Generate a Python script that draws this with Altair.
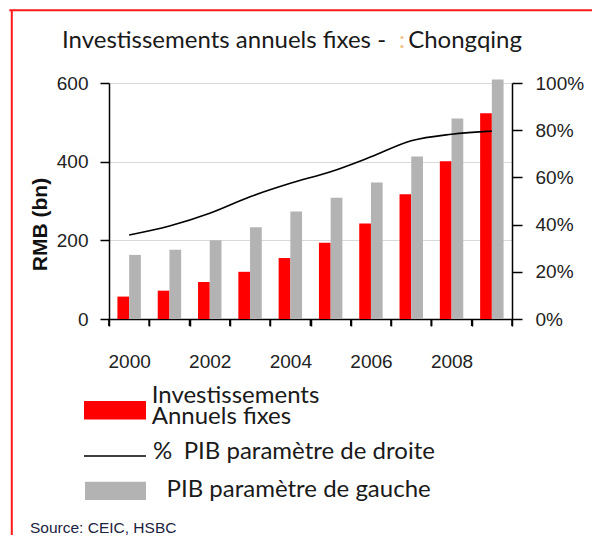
import altair as alt
import pandas as pd

# ---- data ----
years = ["2000", "2001", "2002", "2003", "2004", "2005", "2006", "2007", "2008", "2009"]
invest = [57, 72, 94, 120, 155, 194, 243, 317, 401, 523]          # Investissements annuels fixes (RMB bn)
pib = [163, 176, 200, 233, 273, 308, 347, 413, 510, 609]          # PIB (RMB bn, left axis)
pct_pib = [0.356, 0.394, 0.448, 0.518, 0.575, 0.624, 0.687, 0.755, 0.783, 0.796]  # % PIB (right axis)

series = ["Investissements annuels fixes", "PIB paramètre de gauche"]
series_colors = ["#ff0000", "#b3b3b3"]
left_ticks = [0, 200, 400, 600]
right_ticks = [0, 0.2, 0.4, 0.6, 0.8, 1.0]

title_parts = ["Investissements annuels fixes -", ":", "Chongqing"]
legend_texts = [["Investissements", "Annuels fixes"], "%", "PIB paramètre de droite", "PIB paramètre de gauche"]
source_text = "Source: CEIC, HSBC"
y_title = "RMB (bn)"

bar_df = pd.DataFrame(
    [{"year": y, "series": series[0], "value": v} for y, v in zip(years, invest)]
    + [{"year": y, "series": series[1], "value": v} for y, v in zip(years, pib)]
)
line_df = pd.DataFrame({"year": years, "pct": pct_pib})
year_df = pd.DataFrame({"year": years})
last_df = pd.DataFrame({"year": years[-1:]})

AX_FONT = "Liberation Sans"
TXT_FONT = "Lato"
TXT_SIZE = 24
TXT_COLOR = "#1a1a1a"
LBL_COLOR = "#222222"

x_scale = alt.Scale(domain=years, paddingInner=0, paddingOuter=0)
x_axis = alt.Axis(
    title=None, labelAngle=0, ticks=True, tickBand="extent", tickSize=7, tickColor="black",
    tickWidth=1.5, domainColor="black", domainWidth=1.5,
    labelFont=AX_FONT, labelFontSize=19, labelColor=LBL_COLOR, labelPadding=26, grid=False,
    labelExpr="toNumber(datum.value) % 2 === 0 ? datum.label : ''",
)

bars = alt.Chart(bar_df).mark_bar().encode(
    x=alt.X("year:N", sort=years, scale=x_scale, axis=x_axis),
    xOffset=alt.XOffset("series:N", sort=series,
                        scale=alt.Scale(domain=series, paddingInner=0, paddingOuter=0.72)),
    y=alt.Y(
        "value:Q",
        scale=alt.Scale(domain=[0, 600], nice=False),
        axis=alt.Axis(
            orient="left", values=left_ticks, grid=True, gridColor="#d9d9d9", gridWidth=1,
            tickSize=9, tickColor="black", tickWidth=1.5, domainColor="black", domainWidth=1.5,
            labelFont=AX_FONT, labelFontSize=19, labelColor=LBL_COLOR, labelPadding=12,
            title=y_title, titleFont=AX_FONT, titleFontSize=21, titleFontWeight="bold",
            titleColor="#111111", titleAngle=270, titleX=-69, titleY=141,
            titleAlign="center", titleBaseline="middle",
        ),
    ),
    color=alt.Color("series:N", scale=alt.Scale(domain=series, range=series_colors), legend=None),
)

# x-axis ticks at category boundaries, drawn through the shared x and y scales
TICK_LEN = -17.8  # 7 px below zero on the 0-600 scale
x_ticks_start = alt.Chart(year_df).mark_rule(color="black", strokeWidth=1.5).encode(
    x=alt.X("year:N", sort=years, scale=x_scale, bandPosition=0),
    y=alt.Y(datum=0), y2=alt.Y2(datum=TICK_LEN),
)
x_ticks_end = alt.Chart(last_df).mark_rule(color="black", strokeWidth=1.5).encode(
    x=alt.X("year:N", sort=years, scale=x_scale, bandPosition=1),
    y=alt.Y(datum=0), y2=alt.Y2(datum=TICK_LEN),
)
x_tickmarks = alt.Chart(year_df).mark_tick(color="black", thickness=1.5, size=7, orient="vertical").encode(
    x=alt.X("year:N", sort=years, scale=x_scale, bandPosition=0),
    y=alt.value(239.5),
)

left_part = alt.layer(bars, x_ticks_start, x_ticks_end, x_tickmarks)

line = alt.Chart(line_df).mark_line(color="black", strokeWidth=1.6, interpolate="monotone").encode(
    x=alt.X("year:N", sort=years, scale=x_scale),
    y=alt.Y(
        "pct:Q",
        scale=alt.Scale(domain=[0, 1], nice=False),
        axis=alt.Axis(
            orient="right", values=right_ticks, format=".0%", grid=False,
            tickSize=10, tickColor="black", tickWidth=1.5, domainColor="black", domainWidth=1.5,
            labelFont=AX_FONT, labelFontSize=19, labelColor=LBL_COLOR, labelPadding=13, title=None,
        ),
    ),
)

one = pd.DataFrame({"a": [0]})


def txt(text, x, y, size, font=TXT_FONT, color=TXT_COLOR, align="left", weight="normal", lh=None):
    props = dict(text=text, align=align, baseline="alphabetic", font=font, fontSize=size,
                 color=color, fontWeight=weight)
    if lh is not None:
        props["lineHeight"] = lh
    return alt.Chart(one).mark_text(**props).encode(x=alt.value(x), y=alt.value(y))


def rect(x, x2, y, y2, color):
    return alt.Chart(one).mark_rect(color=color).encode(
        x=alt.value(x), x2=alt.value(x2), y=alt.value(y), y2=alt.value(y2))


def hrule(x, x2, y, color, w):
    return alt.Chart(one).mark_rule(color=color, strokeWidth=w).encode(
        x=alt.value(x), x2=alt.value(x2), y=alt.value(y))


def vrule(x, y, y2, color, w):
    return alt.Chart(one).mark_rule(color=color, strokeWidth=w).encode(
        x=alt.value(x), y=alt.value(y), y2=alt.value(y2))


decor = [
    # title
    txt(title_parts[0], -47, -35.2, TXT_SIZE),
    txt(title_parts[1], 290, -35.2, TXT_SIZE, color="#f2c27e"),
    txt(title_parts[2], 413, -35.2, TXT_SIZE, align="right"),
    # legend
    rect(-25, 37, 318, 336.5, series_colors[0]),
    txt(legend_texts[0], 42.7, 319.8, TXT_SIZE, lh=21.6),
    hrule(-25, 37, 373, "black", 1.4),
    txt(legend_texts[1], 44, 375.8, TXT_SIZE),
    txt(legend_texts[2], 74.7, 375.8, TXT_SIZE),
    rect(-24, 37, 398.7, 417, series_colors[1]),
    txt(legend_texts[3], 57.5, 414.1, TXT_SIZE),
    # source
    txt(source_text, -79, 449.6, 15.5, font=AX_FONT, color="#1c2340"),
    # red frame
    hrule(-99.7, 491, -72.8, "#ff1a1a", 2),
    vrule(-97.2, -72.8, 460, "#ff1a1a", 2),
]

chart = alt.layer(left_part, line, *decor).resolve_scale(y="independent").properties(
    width=403,
    height=236,
    padding={"left": 101, "top": 75, "right": 80, "bottom": 216},
    autosize=alt.AutoSizeParams(type="none"),
).configure_view(stroke=None).configure(background="white")

chart.save("out.html", embed_options={"renderer": "svg", "actions": False})
